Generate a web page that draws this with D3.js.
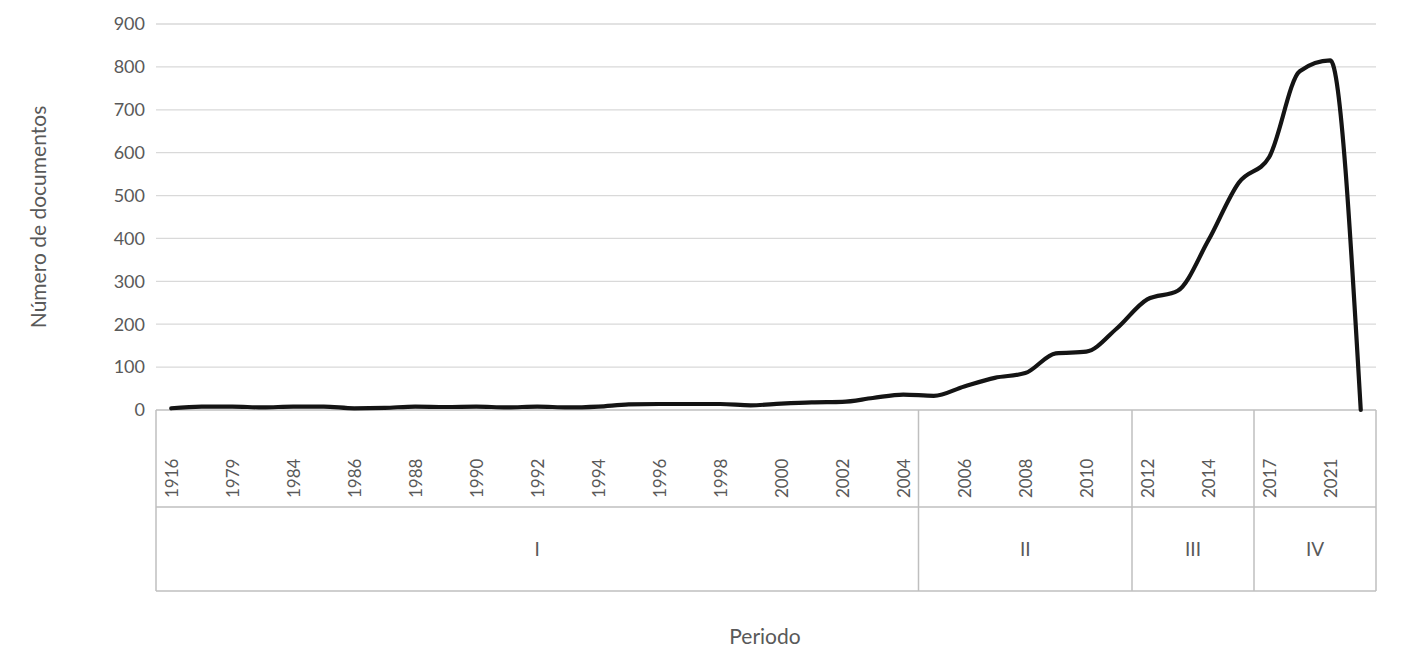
<!DOCTYPE html>
<html lang="es">

<head>
    <meta charset="UTF-8">
    <script src="https://d3js.org/d3.v7.min.js"></script>
    <title>Número de documentos por periodo</title>
    <style>
        body {
            margin: 0;
            background: #fff;
        }

        text {
            font-family: Lato, "Open Sans", sans-serif;
            fill: #595959;
        }
    </style>
</head>

<body>
    <script>
        // categorias (años) del eje x
        var years = ["1916", "1977", "1979", "1982", "1984", "1985", "1986", "1987", "1988", "1989",
            "1990", "1991", "1992", "1993", "1994", "1995", "1996", "1997", "1998", "1999",
            "2000", "2001", "2002", "2003", "2004", "2005", "2006", "2007", "2008", "2009",
            "2010", "2011", "2012", "2013", "2014", "2015", "2017", "2019", "2021", "2022"]

        // numero de documentos por año
        var docs = [4, 8, 8, 6, 8, 8, 4, 5, 8, 7,
            8, 6, 8, 6, 8, 13, 14, 14, 14, 11,
            15, 18, 19, 28, 36, 33, 55, 75, 86, 132,
            136, 190, 258, 278, 395, 530, 590, 790, 815, 0]

        // periodos y cuantos años tiene cada uno
        var periodNames = ["I", "II", "III", "IV"]
        var periodSizes = [25, 7, 4, 4]

        var yTicks = [0, 100, 200, 300, 400, 500, 600, 700, 800, 900]

        var width = 1417, height = 659
        var margin = { left: 156, right: 41, top: 24, bottom: 249 }
        var row1 = 97   // alto de la fila de años
        var row2 = 84   // alto de la fila de periodos

        var svg = d3.select("body")
            .append("svg")
            .attr("width", width)
            .attr("height", height)

        var x = d3.scaleBand()
            .domain(years)
            .range([margin.left, width - margin.right])
            .padding(0)

        var y = d3.scaleLinear()
            .domain([0, 900])
            .range([height - margin.bottom, margin.top])

        var y0 = y(0)

        // lineas de la cuadricula
        svg.append("g")
            .selectAll("line")
            .data(yTicks.slice(1))
            .join("line")
            .attr("x1", margin.left)
            .attr("x2", width - margin.right)
            .attr("y1", function (d) { return y(d) })
            .attr("y2", function (d) { return y(d) })
            .attr("stroke", "#d9d9d9")
            .attr("stroke-width", 1.3)

        // etiquetas del eje y
        svg.append("g")
            .selectAll("text")
            .data(yTicks)
            .join("text")
            .attr("x", margin.left - 11)
            .attr("y", function (d) { return y(d) })
            .attr("dy", "0.35em")
            .attr("text-anchor", "end")
            .style("font-size", "18px")
            .text(function (d) { return d })

        // cuadro del eje de categorias (dos niveles)
        var axisG = svg.append("g")
            .attr("stroke", "#bfbfbf")
            .attr("stroke-width", 1.5)

        var xl = margin.left, xr = width - margin.right
        axisG.append("line").attr("x1", xl).attr("x2", xr).attr("y1", y0).attr("y2", y0)
        axisG.append("line").attr("x1", xl).attr("x2", xr).attr("y1", y0 + row1).attr("y2", y0 + row1)
        axisG.append("line").attr("x1", xl).attr("x2", xr).attr("y1", y0 + row1 + row2).attr("y2", y0 + row1 + row2)

        // limites de cada periodo
        var periods = []
        var start = 0
        periodNames.forEach(function (name, i) {
            var first = years[start]
            var last = years[start + periodSizes[i] - 1]
            periods.push({
                name: name,
                x0: x(first),
                x1: x(last) + x.bandwidth()
            })
            start += periodSizes[i]
        })

        var bounds = [periods[0].x0].concat(periods.map(function (p) { return p.x1 }))
        axisG.selectAll("line.sep")
            .data(bounds)
            .join("line")
            .attr("class", "sep")
            .attr("x1", function (d) { return d })
            .attr("x2", function (d) { return d })
            .attr("y1", y0)
            .attr("y2", y0 + row1 + row2)

        // etiquetas de los años (una de cada dos)
        svg.append("g")
            .selectAll("text")
            .data(years.filter(function (d, i) { return i % 2 == 0 }))
            .join("text")
            .attr("transform", function (d) {
                return "translate(" + (x(d) + x.bandwidth() / 2 + 1) + "," + (y0 + 88) + ") rotate(-90)"
            })
            .attr("dy", "0.35em")
            .style("font-size", "17px")
            .text(function (d) { return d })

        // etiquetas de los periodos
        svg.append("g")
            .selectAll("text")
            .data(periods)
            .join("text")
            .attr("x", function (d) { return (d.x0 + d.x1) / 2 })
            .attr("y", y0 + row1 + row2 / 2)
            .attr("dy", "0.35em")
            .attr("text-anchor", "middle")
            .style("font-size", "19px")
            .text(function (d) { return d.name })

        // linea de documentos
        var line = d3.line()
            .x(function (d, i) { return x(years[i]) + x.bandwidth() / 2 })
            .y(function (d) { return y(d) })
            .curve(d3.curveMonotoneX)

        svg.append("path")
            .datum(docs)
            .attr("d", line)
            .attr("fill", "none")
            .attr("stroke", "#141414")
            .attr("stroke-width", 4.2)
            .attr("stroke-linejoin", "round")
            .attr("stroke-linecap", "round")

        // titulos de los ejes
        svg.append("text")
            .attr("transform", "translate(39," + ((y(900) + y0) / 2) + ") rotate(-90)")
            .attr("dy", "0.35em")
            .attr("text-anchor", "middle")
            .style("font-size", "21px")
            .text("Número de documentos")

        svg.append("text")
            .attr("x", 765)
            .attr("y", 637)
            .attr("dy", "0.35em")
            .attr("text-anchor", "middle")
            .style("font-size", "21px")
            .text("Periodo")
    </script>
</body>

</html>
